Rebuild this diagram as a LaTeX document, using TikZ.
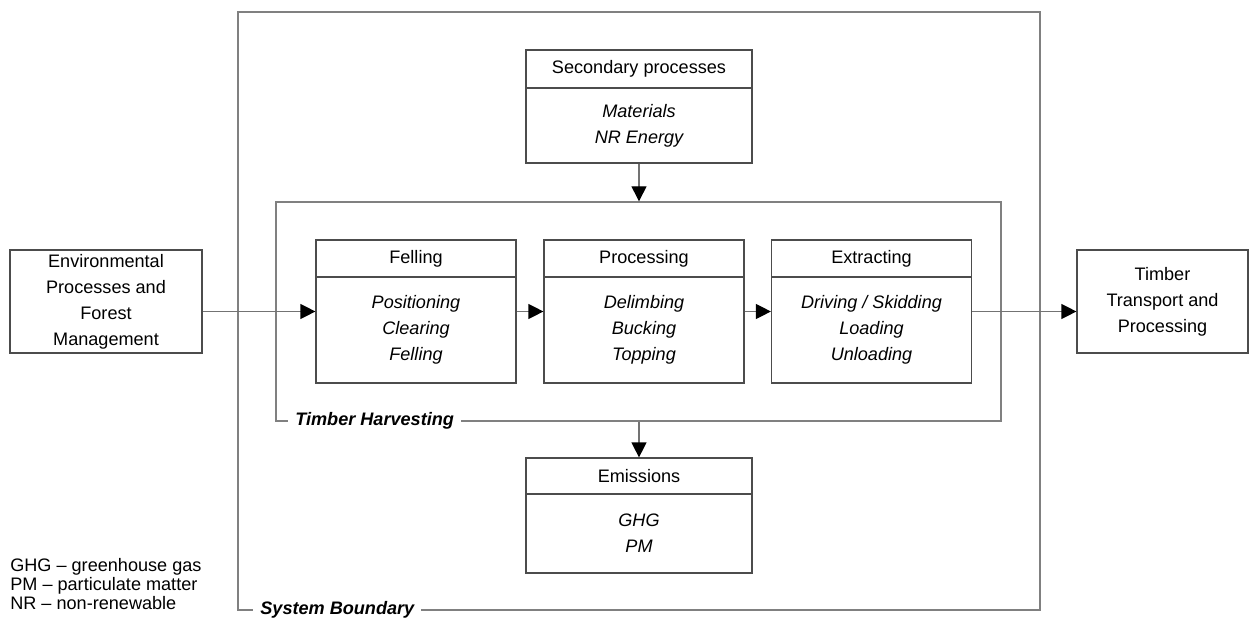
\documentclass[tikz,border=0pt]{standalone}
\usepackage{fontspec}
\setmainfont{Liberation Sans}
\usetikzlibrary{positioning,arrows.meta}

\begin{document}
\begin{tikzpicture}[x=0.02cm, y=-0.02cm,
        line/.style={draw=black!70, line width=0.7pt},
        rim/.style={draw=black!50, line width=0.8pt, rectangle},
        box/.style={line, rectangle, inner sep=0pt, minimum width=4cm},
        head/.style={line, rectangle, inner sep=0pt, minimum width=4cm, minimum height=0.74cm, font=\fontsize{10.3}{14.8}\selectfont},
        items/.style={align=center, inner sep=0pt, font=\fontsize{10.3}{14.8}\selectfont\itshape},
        outer/.style={line, rectangle, inner sep=0pt, align=center, minimum height=2.06cm, font=\fontsize{10.3}{14.8}\selectfont},
        frame/.style={fill=white, inner sep=4pt, font=\fontsize{10.3}{12}\selectfont\bfseries\itshape},
        flow/.style={draw=black!55, line width=0.7pt, -{Triangle[length=0.3cm, width=0.3cm, color=black]}}
    ]
        \useasboundingbox (0,0) rectangle (1258,621);

        % Boundaries
        \node[rim, minimum width=16.04cm, minimum height=11.96cm] (sys) at (639,311) {};
        \node[frame, anchor=west] (sysl) at (253,610) {System Boundary};
        \node[rim, minimum width=14.5cm, minimum height=4.38cm] (hv) at (638.5,311.5) {};
        \node[frame, anchor=west] (hvl) at (288,421) {Timber Harvesting};

        % Secondary processes
        \node[box, minimum width=4.52cm, minimum height=2.26cm] (sec) at (639,106.5) {};
        \node[head, anchor=north, minimum width=4.52cm, minimum height=0.76cm] (sech) at (sec.north) {Secondary processes};
        \node[items] (seci) at (639,125.5) {Materials\\NR Energy};

        % Harvesting steps
        \node[box, minimum height=2.86cm] (fel) at (416,311.5) {};
        \node[head, anchor=north] (felh) at (fel.north) {Felling};
        \node[items] (feli) at (416,330) {Positioning\\Clearing\\Felling};

        \node[box, minimum height=2.86cm] (pro) at (644,311.5) {};
        \node[head, anchor=north] (proh) at (pro.north) {Processing};
        \node[items] (proi) at (644,330) {Delimbing\\Bucking\\Topping};

        \node[box, minimum height=2.86cm] (ext) at (871.5,311.5) {};
        \node[head, anchor=north] (exth) at (ext.north) {Extracting};
        \node[items] (exti) at (871.5,330) {Driving / Skidding\\Loading\\Unloading};

        % Emissions
        \node[box, minimum width=4.52cm, minimum height=2.3cm] (em) at (639,515.5) {};
        \node[head, anchor=north, minimum width=4.52cm, minimum height=0.72cm] (emh) at (em.north) {Emissions};
        \node[items] (emi) at (639,533.5) {GHG\\PM};

        % Outside the boundary
        \node[outer, minimum width=3.84cm] (env) at (106,301.5) {Environmental\\Processes and\\Forest\\Management};
        \node[outer, minimum width=3.42cm] (trn) at (1162.5,301.5) {Timber\\Transport and\\Processing};

        % Arrows
        \draw[flow] (env.east |- fel.west) -- (fel.west);
        \draw[flow] (fel) -- (pro);
        \draw[flow] (pro) -- (ext);
        \draw[flow] (ext.east) -- (trn.west |- ext.east);
        \draw[flow] (sec.south) -- (sec.south |- hv.north);
        \draw[flow] (em.north |- hv.south) -- (em.north);

        % Legend
        \node[anchor=west, align=left, inner sep=0pt, font=\fontsize{10.3}{10.8}\selectfont] (key) at (10,584) {GHG -- greenhouse gas\\PM -- particulate matter\\NR -- non-renewable};
    \end{tikzpicture}
\end{document}
